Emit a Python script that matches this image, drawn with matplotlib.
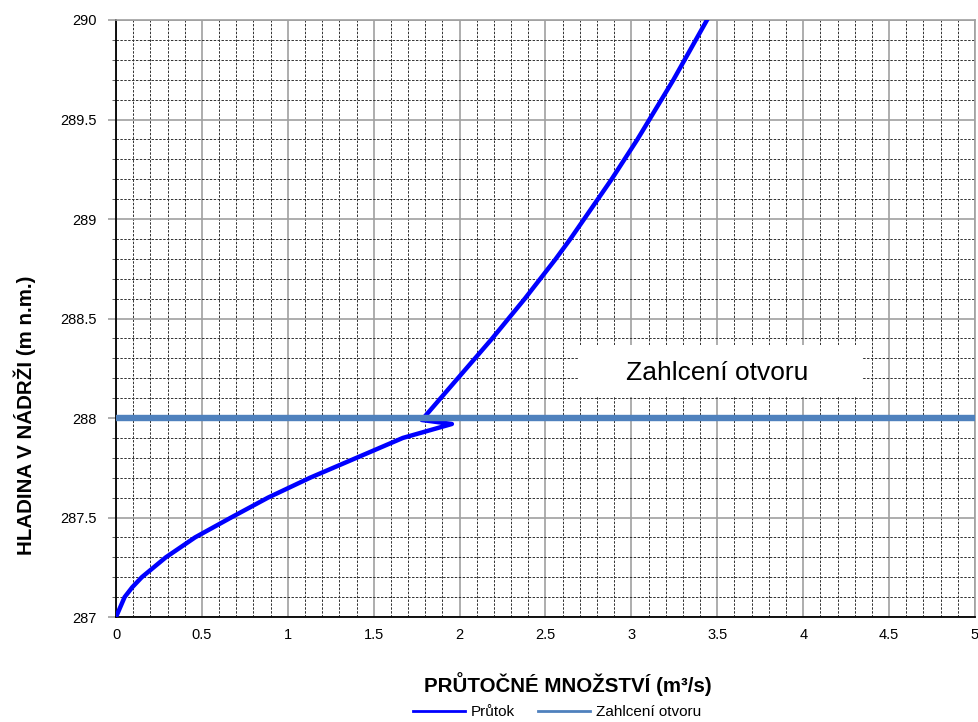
import matplotlib
matplotlib.use("Agg")
import matplotlib.pyplot as plt
from matplotlib.lines import Line2D
from matplotlib.patches import Rectangle
from matplotlib.ticker import MultipleLocator

# Arial-like font
matplotlib.rcParams['font.family'] = ['Liberation Sans', 'DejaVu Sans']

# data: flow (m3/s) vs water level (m n.m.)
prutok_q = [0.0, 0.01, 0.02, 0.05, 0.095, 0.15, 0.22, 0.29, 0.46, 0.67, 0.885, 1.13,
            1.40, 1.67, 1.955, 1.78, 1.89, 1.99, 2.09, 2.19, 2.285, 2.38, 2.47, 2.56,
            2.645, 2.725, 2.805, 2.885, 2.96, 3.035, 3.105, 3.175, 3.245, 3.31, 3.375,
            3.44]
prutok_h = [287.0, 287.02, 287.04, 287.1, 287.15, 287.2, 287.25, 287.3, 287.4, 287.5,
            287.6, 287.7, 287.8, 287.9, 287.97, 287.99, 288.1, 288.2, 288.3, 288.4,
            288.5, 288.6, 288.7, 288.8, 288.9, 289.0, 289.1, 289.2, 289.3, 289.4,
            289.5, 289.6, 289.7, 289.8, 289.9, 290.0]

# level where the opening gets flooded
zahlceni_q = [0, 5]
zahlceni_h = [288, 288]

x_ticks = [0, 0.5, 1, 1.5, 2, 2.5, 3, 3.5, 4, 4.5, 5]
x_labels = ['0', '0.5', '1', '1.5', '2', '2.5', '3', '3.5', '4', '4.5', '5']
y_ticks = [287, 287.5, 288, 288.5, 289, 289.5, 290]
y_labels = ['287', '287.5', '288', '288.5', '289', '289.5', '290']

fig = plt.figure(figsize=(9.79, 7.22), dpi=100)
ax = fig.add_axes([0.1185, 0.1454, 0.8774, 0.8269])

ax.plot(prutok_q, prutok_h, color='#0000FF', lw=3.2, zorder=3)
ax.plot(zahlceni_q, zahlceni_h, color='#4F81BD', lw=4.6, zorder=4, solid_capstyle='butt')

ax.set_xlim(0, 5)
ax.set_ylim(287, 290)
ax.set_xticks(x_ticks)
ax.set_xticklabels(x_labels, fontsize=10.5)
ax.set_yticks(y_ticks)
ax.set_yticklabels(y_labels, fontsize=10.5)
ax.xaxis.set_minor_locator(MultipleLocator(0.1))
ax.yaxis.set_minor_locator(MultipleLocator(0.1))

# grid: solid gray majors, dashed dark minors
ax.grid(which='major', color='#a0a0a0', lw=1.2, ls='-', zorder=1)
ax.grid(which='minor', color='#303030', lw=0.7, ls=(0, (2.5, 1.5)), zorder=1)

ax.tick_params(axis='x', which='both', length=0, pad=8)
ax.tick_params(axis='y', which='major', length=6, color='#a0a0a0', width=1.2, pad=8)
ax.tick_params(axis='y', which='minor', length=3, color='#606060', width=0.7)

for s in ['top', 'right']:
    ax.spines[s].set_color('#a0a0a0')
    ax.spines[s].set_linewidth(1.2)
for s in ['left', 'bottom']:
    ax.spines[s].set_color('black')
    ax.spines[s].set_linewidth(1.3)

ax.set_xlabel('PRŮTOČNÉ MNOŽSTVÍ (m³/s)', fontsize=14.8, fontweight='bold', va='center')
ax.set_ylabel('HLADINA V NÁDRŽI (m n.m.)', fontsize=14.8, fontweight='bold', va='center')
ax.xaxis.set_label_coords(0.526, -0.112)
ax.yaxis.set_label_coords(-0.106, 0.338)

# white label box over the grid
ax.add_patch(Rectangle((2.69, 288.105), 1.65, 0.262, facecolor='white',
                       edgecolor='none', zorder=5))
ax.text(3.50, 288.226, 'Zahlcení otvoru', fontsize=19, ha='center', va='center', zorder=6)

handles = [Line2D([], [], color='#0000FF', lw=2),
           Line2D([], [], color='#4F81BD', lw=2)]
fig.legend(handles, ['Průtok', 'Zahlcení otvoru'], loc='center',
           bbox_to_anchor=(0.569, 0.014), ncol=2, frameon=False, fontsize=11,
           handlelength=3.4, handletextpad=0.4, columnspacing=1.5,
           borderaxespad=0, borderpad=0)

fig.savefig('out.png', dpi=100)
